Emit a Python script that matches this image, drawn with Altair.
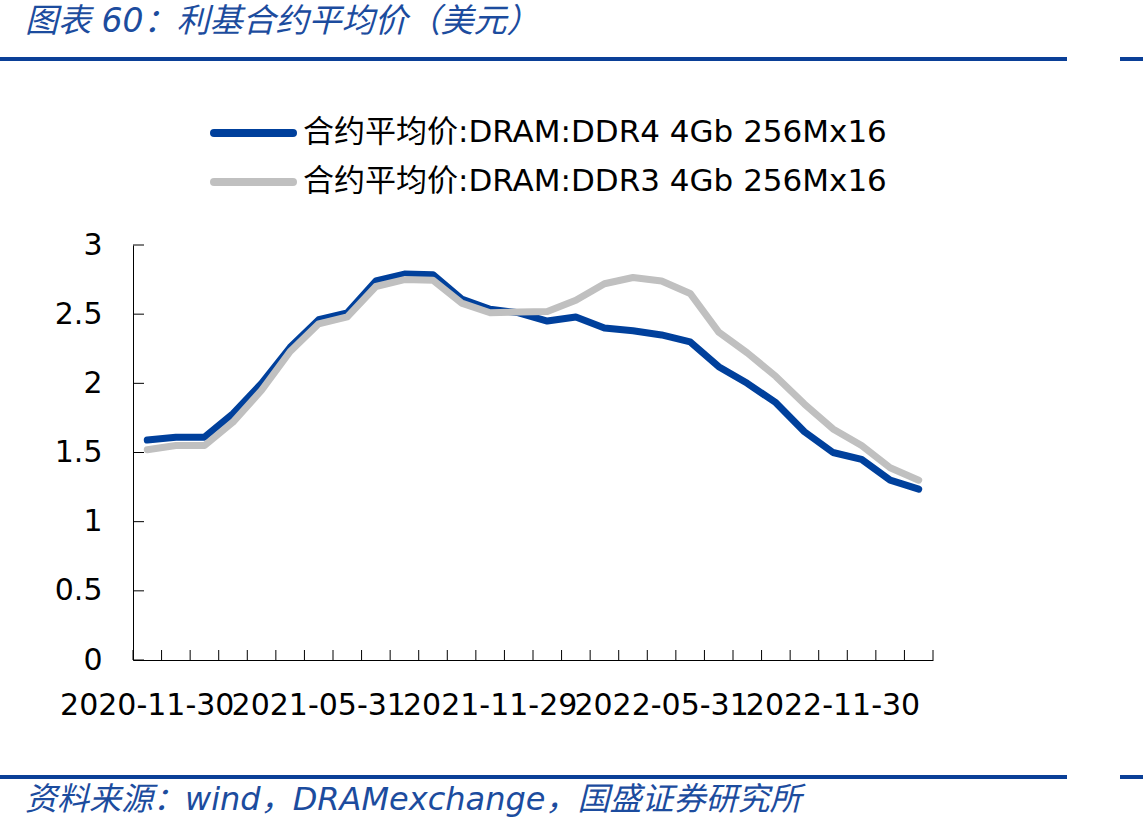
import altair as alt
import pandas as pd

# ---------------- data ----------------
dates = [
    "2020-11-30", "2020-12-31", "2021-01-31", "2021-02-28", "2021-03-31", "2021-04-30",
    "2021-05-31", "2021-06-30", "2021-07-31", "2021-08-31", "2021-09-30", "2021-10-31",
    "2021-11-29", "2021-12-31", "2022-01-31", "2022-02-28", "2022-03-31", "2022-04-30",
    "2022-05-31", "2022-06-30", "2022-07-31", "2022-08-31", "2022-09-30", "2022-10-31",
    "2022-11-30", "2022-12-31", "2023-01-31", "2023-02-28",
]
ddr4 = [1.59, 1.61, 1.61, 1.78, 2.00, 2.26, 2.46, 2.51, 2.74, 2.79, 2.785, 2.61,
        2.535, 2.51, 2.45, 2.48, 2.40, 2.38, 2.35, 2.30, 2.12, 2.00, 1.86, 1.65,
        1.50, 1.45, 1.30, 1.235]
ddr3 = [1.52, 1.55, 1.55, 1.72, 1.95, 2.23, 2.43, 2.48, 2.70, 2.75, 2.745, 2.58,
        2.51, 2.515, 2.52, 2.60, 2.72, 2.765, 2.74, 2.65, 2.37, 2.22, 2.05, 1.85,
        1.67, 1.55, 1.39, 1.30]
series_names = ["合约平均价:DRAM:DDR4 4Gb 256Mx16", "合约平均价:DRAM:DDR3 4Gb 256Mx16"]
shown_labels = ["2020-11-30", "2021-05-31", "2021-11-29", "2022-05-31", "2022-11-30"]
y_ticks = [0, 0.5, 1, 1.5, 2, 2.5, 3]
title_text = "图表 60：利基合约平均价（美元）"
source_text = "资料来源：wind，DRAMexchange，国盛证券研究所"

# ---------------- styles ----------------
BLUE = "#00409C"
GRAY = "#C0C0C0"
RULE_BLUE = "#0A3F97"
TEXT_BLUE = "#1C4C9E"
FONT = "DejaVu Sans, Noto Sans CJK SC"
W, H = 800, 415

df4 = pd.DataFrame({"date": dates, "value": ddr4})
df3 = pd.DataFrame({"date": dates, "value": ddr3})
one = pd.DataFrame({"k": [0]})

x_scale = alt.Scale(type="band", paddingInner=0, paddingOuter=0)
x_axis = alt.Axis(values=shown_labels, title=None, labelAngle=0, labelFontSize=30,
                  labelFont=FONT, labelColor="black", labelPadding=30, ticks=False,
                  tickSize=0, domainColor="black", domainWidth=1, labelOverlap=False,
                  labelFlush=False, grid=False)
y_scale = alt.Scale(domain=[0, 3], nice=False, zero=True)
y_axis = alt.Axis(values=y_ticks, format="~g", title=None, labelFontSize=30,
                  labelFont=FONT, labelColor="black", labelPadding=31, ticks=False,
                  tickSize=0, domainColor="black", domainWidth=1, grid=False)


def X(bp):
    return alt.X("date:O", sort=dates, scale=x_scale, axis=x_axis, bandPosition=bp)


def Y(field):
    return alt.Y(field, scale=y_scale, axis=y_axis)


line4 = alt.Chart(df4).mark_line(color=BLUE, strokeWidth=7, strokeCap="round",
                                 strokeJoin="round").encode(x=X(0.5), y=Y("value:Q"))
line3 = alt.Chart(df3).mark_line(color=GRAY, strokeWidth=7, strokeCap="round",
                                 strokeJoin="round").encode(x=X(0.5), y=Y("value:Q"))

# inward ticks
xticks = alt.Chart(pd.DataFrame({"date": dates})).mark_rule(color="black", strokeWidth=1).encode(
    x=X(0), y=alt.value(H - 10), y2=alt.value(H))
xtick_end = alt.Chart(one).mark_rule(color="black", strokeWidth=1).encode(
    x=alt.value(W), y=alt.value(H - 10), y2=alt.value(H))
yticks = alt.Chart(pd.DataFrame({"tick": y_ticks})).mark_rule(color="black", strokeWidth=1).encode(
    y=Y("tick:Q"), x=alt.value(0), x2=alt.value(11))

# legend (custom)
leg = []
for i, (name, col) in enumerate(zip(series_names, [BLUE, GRAY])):
    yy = -112 + i * 49
    leg.append(alt.Chart(one).mark_rule(color=col, strokeWidth=8, strokeCap="round").encode(
        x=alt.value(81), x2=alt.value(160), y=alt.value(yy)))
    leg.append(alt.Chart(one).mark_text(text=name, align="left", baseline="middle", font=FONT,
                                        fontSize=31, color="black").encode(
        x=alt.value(170), y=alt.value(yy)))

# title, source and decorative rules
title = alt.Chart(one).mark_text(text=title_text, align="left", baseline="middle", font=FONT,
                                 fontSize=33, fontStyle="italic", color=TEXT_BLUE).encode(
    x=alt.value(-108), y=alt.value(-223))
source = alt.Chart(one).mark_text(text=source_text, align="left", baseline="middle", font=FONT,
                                  fontSize=32, fontStyle="italic", color=TEXT_BLUE).encode(
    x=alt.value(-108), y=alt.value(555))
rules = []
for yy in [-186, 532]:
    rules.append(alt.Chart(one).mark_rule(color=RULE_BLUE, strokeWidth=4).encode(
        x=alt.value(-133), x2=alt.value(934), y=alt.value(yy)))
    rules.append(alt.Chart(one).mark_rule(color=RULE_BLUE, strokeWidth=4).encode(
        x=alt.value(987), x2=alt.value(1010), y=alt.value(yy)))

chart = alt.layer(line4, line3, xticks, xtick_end, yticks, *leg, title, source, *rules).properties(
    width=W, height=H,
    autosize=alt.AutoSizeParams(type="none"),
    padding={"left": 133, "top": 245, "right": 210, "bottom": 170},
    background="white",
).configure_view(stroke=None)

chart.save("out.html", embed_options={"renderer": "svg", "actions": False})
